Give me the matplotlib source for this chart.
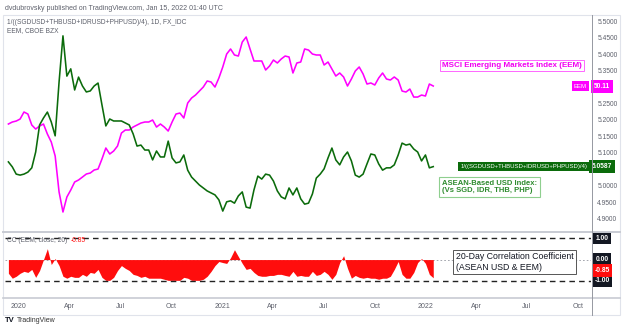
import matplotlib
matplotlib.use('Agg')
import matplotlib.pyplot as plt
import matplotlib.dates as mdates
import matplotlib.transforms as mtransforms
from matplotlib.patches import Rectangle
from matplotlib.lines import Line2D
import pandas as pd

plt.rcParams['font.family'] = ['Liberation Sans', 'DejaVu Sans']

# ---------------- data (weekly samples) ----------------
dates = pd.date_range('2019-12-13', periods=110, freq='7D')

asean_usd = [5.073, 5.058, 5.036, 5.033, 5.036, 5.042, 5.055, 5.103, 5.185, 5.206,
             5.224, 5.194, 5.152, 5.315, 5.455, 5.333, 5.355, 5.291, 5.330, 5.303,
             5.285, 5.288, 5.303, 5.312, 5.246, 5.182, 5.203, 5.197, 5.197, 5.197,
             5.191, 5.185, 5.158, 5.121, 5.124, 5.109, 5.109, 5.079, 5.106, 5.088,
             5.088, 5.136, 5.085, 5.070, 5.073, 5.094, 5.048, 5.027, 5.015, 5.003,
             4.994, 4.985, 4.979, 4.973, 4.958, 4.924, 4.952, 4.955, 4.948, 4.970,
             4.982, 4.936, 4.933, 4.988, 5.030, 5.021, 5.036, 5.033, 5.015, 4.985,
             4.967, 4.961, 4.994, 4.973, 4.994, 4.961, 4.945, 4.948, 4.976, 5.024,
             5.036, 5.052, 5.085, 5.115, 5.079, 5.064, 5.088, 5.103, 5.076, 5.033,
             5.027, 5.036, 5.067, 5.097, 5.094, 5.067, 5.048, 5.055, 5.055, 5.064,
             5.094, 5.130, 5.124, 5.127, 5.112, 5.103, 5.076, 5.094, 5.055, 5.0587]

eem = [43.84, 44.17, 44.33, 44.66, 45.82, 45.49, 43.67, 43.01, 43.51, 43.84,
       42.19, 40.87, 38.56, 32.62, 29.32, 31.79, 32.95, 34.27, 34.60, 35.09,
       35.59, 35.75, 36.25, 36.41, 38.06, 39.88, 38.89, 39.38, 40.21, 42.35,
       42.85, 42.85, 43.34, 43.67, 44.00, 44.17, 44.17, 44.50, 43.34, 43.84,
       43.34, 42.68, 44.17, 45.49, 45.65, 44.83, 47.30, 48.13, 48.62, 49.28,
       49.94, 50.94, 50.77, 49.94, 51.43, 53.25, 55.39, 56.22, 55.23, 55.06,
       57.37, 58.20, 56.22, 54.24, 54.24, 54.24, 52.75, 53.41, 54.40, 53.91,
       54.57, 55.06, 54.90, 52.26, 53.91, 54.07, 56.22, 56.05, 55.39, 55.23,
       55.23, 53.58, 54.07, 52.92, 51.76, 52.26, 51.60, 50.11, 51.27, 52.59,
       53.25, 52.09, 50.44, 50.61, 50.28, 51.43, 52.26, 51.27, 51.10, 51.60,
       51.10, 49.28, 49.12, 49.61, 48.29, 48.29, 48.62, 48.46, 50.44, 50.11]

corr = [-0.64, -0.87, -0.78, -0.64, -0.55, -0.60, -0.46, -0.83, -0.51, 0.00,
        0.51, -0.23, 0.05, -0.28, -0.78, -0.87, -0.78, -0.83, -0.83, -0.69,
        -0.78, -0.60, -0.64, -0.46, -0.83, -0.97, -0.97, -0.83, -0.51, -0.28,
        -0.41, -0.51, -0.69, -0.74, -0.83, -0.78, -0.87, -0.87, -0.87, -0.87,
        -0.92, -0.97, -0.97, -0.97, -0.97, -0.83, -0.87, -0.97, -0.97, -0.97,
        -0.92, -0.78, -0.55, -0.28, -0.09, -0.14, -0.18, 0.09, 0.46, 0.14,
        -0.18, -0.46, -0.41, -0.60, -0.74, -0.78, -0.78, -0.74, -0.74, -0.69,
        -0.69, -0.74, -0.78, -0.55, -0.78, -0.74, -0.78, -0.78, -0.55, -0.74,
        -0.69, -0.55, -0.69, -0.92, -0.69, -0.14, 0.18, -0.41, -0.87, -0.74,
        -0.83, -0.87, -0.83, -0.87, -0.87, -0.92, -0.87, -0.87, -0.78, -0.46,
        -0.09, -0.69, -0.87, -0.87, -0.60, -0.14, 0.05, -0.18, -0.69, -0.85]

price_ticks = [4.90, 4.95, 5.00, 5.10, 5.15, 5.20, 5.25, 5.35, 5.40, 5.45, 5.50]
x_tick_dates = ['2020-01-01', '2020-04-01', '2020-07-01', '2020-10-01',
                '2021-01-01', '2021-04-01', '2021-07-01', '2021-10-01',
                '2022-01-01', '2022-04-01', '2022-07-01', '2022-10-01']
x_tick_labels = ['2020', 'Apr', 'Jul', 'Oct', '2021', 'Apr', 'Jul', 'Oct',
                 '2022', 'Apr', 'Jul', 'Oct']

# ---------------- colours ----------------
MAGENTA = '#ff00ff'
GREEN = '#0b6b0b'
RED = '#ff0d0d'
GREY_TXT = '#5d606b'

W, H = 623, 330
fig = plt.figure(figsize=(W / 100, H / 100), dpi=100)
fig.patch.set_facecolor('white')


def rect(x0, y0, x1, y1):
    return [x0 / W, 1 - y1 / H, (x1 - x0) / W, (y1 - y0) / H]


def fx(px):
    return px / W


def fy(py):
    return 1 - py / H


# outer frame and separators
fig.patches.append(Rectangle((fx(3), fy(315)), (620 - 3) / W, (315 - 15) / H,
                             transform=fig.transFigure, fill=False,
                             ec='#e0e3eb', lw=0.8))
fig.lines.append(Line2D([fx(3), fx(620)], [fy(231.5), fy(231.5)],
                        transform=fig.transFigure, color='#c8cbd3', lw=1.4))
fig.lines.append(Line2D([fx(3), fx(620)], [fy(297.5), fy(297.5)],
                        transform=fig.transFigure, color='#c8cbd3', lw=1.2))
fig.lines.append(Line2D([fx(592), fx(592)], [fy(15), fy(315)],
                        transform=fig.transFigure, color='#9598a1', lw=0.7))

x0 = mdates.date2num(pd.Timestamp('2020-01-01'))
xlim = (x0 - 25.1, x0 + 1027.3)

ax_e = fig.add_axes(rect(5, 15, 591, 231))
ax_g = ax_e.twinx()
ax_c = fig.add_axes(rect(5, 232, 591, 297))

for a in (ax_e, ax_g, ax_c):
    a.set_xlim(xlim)
    a.patch.set_alpha(0)
    for s in a.spines.values():
        s.set_visible(False)

# main pane
ax_e.plot(dates, eem, color=MAGENTA, lw=1.15, solid_joinstyle='round')
ax_e.set_ylim(26.185, 61.83)
ax_e.set_yticks([])
ax_e.set_xticks([])

ax_g.plot(dates, asean_usd, color=GREEN, lw=1.15, solid_joinstyle='round')
ax_g.set_ylim(4.8636, 5.5182)
ax_g.set_yticks(price_ticks)
ax_g.set_yticklabels(['%.4f' % v for v in price_ticks])
ax_g.tick_params(axis='y', length=0, pad=4.5, labelsize=4.8, labelcolor=GREY_TXT)
ax_g.set_xticks([])

# correlation pane
ax_c.fill_between(dates, 0, corr, color=RED, lw=0, zorder=2)
ax_c.axhline(0, color='#9598a1', lw=0.6, ls=(0, (2, 2.5)), zorder=1)
ax_c.axhline(1, color='#222222', lw=1.0, ls=(0, (4, 3)), zorder=3)
ax_c.axhline(-1, color='#222222', lw=1.0, ls=(0, (4, 3)), zorder=3)
ax_c.set_ylim(-1.747, 1.287)
ax_c.set_yticks([])
ax_c.set_xticks([mdates.date2num(pd.Timestamp(d)) for d in x_tick_dates])
ax_c.set_xticklabels(x_tick_labels)
ax_c.tick_params(axis='x', length=0, pad=4, labelsize=5, labelcolor=GREY_TXT)

# ---------------- price-scale labels ----------------
tr_e = mtransforms.blended_transform_factory(ax_e.transAxes, ax_e.transData)
tr_g = mtransforms.blended_transform_factory(ax_g.transAxes, ax_g.transData)
tr_c = mtransforms.blended_transform_factory(ax_c.transAxes, ax_c.transData)
xv = (602 - 5) / 586
xr = (587 - 5) / 586

ax_e.text(xv, eem[-1], '%.2f' % eem[-1], transform=tr_e, ha='center', va='center',
          fontsize=4.8, color='white', fontweight='bold', clip_on=False, zorder=10,
          bbox=dict(boxstyle='square,pad=0.45', fc=MAGENTA, ec='none'))
ax_e.text(xr, eem[-1], 'EEM', transform=tr_e, ha='right', va='center',
          fontsize=4.3, color='white', clip_on=False, zorder=10,
          bbox=dict(boxstyle='square,pad=0.4', fc=MAGENTA, ec='none'))

ax_g.text(xv, asean_usd[-1], '%.4f' % asean_usd[-1], transform=tr_g, ha='center',
          va='center', fontsize=4.8, color='white', fontweight='bold', clip_on=False,
          zorder=10, bbox=dict(boxstyle='square,pad=0.4', fc=GREEN, ec='none'))
ax_g.text(xr, asean_usd[-1], '1/((SGDUSD+THBUSD+IDRUSD+PHPUSD)/4)', transform=tr_g,
          ha='right', va='center', fontsize=4.3, color='white', clip_on=False,
          zorder=10, bbox=dict(boxstyle='square,pad=0.35', fc=GREEN, ec='none'))

for lvl in (1.0, 0.0, -1.0):
    ax_c.text(xv, lvl, '%.2f' % lvl, transform=tr_c, ha='center', va='center',
              fontsize=4.8, color='white', fontweight='bold', clip_on=False, zorder=10,
              bbox=dict(boxstyle='square,pad=0.4', fc='#131722', ec='none'))
# last-value label, nudged up so it sits just above the -1.00 label
ax_c.annotate('%.2f' % corr[-1], xy=(xv, corr[-1]), xycoords=tr_c,
              xytext=(0, 5.2), textcoords='offset points', ha='center', va='center',
              fontsize=4.8, color='white', fontweight='bold', annotation_clip=False,
              zorder=11, bbox=dict(boxstyle='square,pad=0.4', fc=RED, ec='none'))

# ---------------- texts ----------------
fig.text(fx(5), fy(8), 'dvdubrovsky published on TradingView.com, Jan 15, 2022 01:40 UTC',
         fontsize=5, color=GREY_TXT, va='center', ha='left')
fig.text(fx(7), fy(22.5), '1/((SGDUSD+THBUSD+IDRUSD+PHPUSD)/4), 1D, FX_IDC',
         fontsize=4.8, color=GREY_TXT, va='center', ha='left')
fig.text(fx(7), fy(31), 'EEM, CBOE BZX', fontsize=4.8, color=GREY_TXT,
         va='center', ha='left')
fig.text(fx(7), fy(240), 'CC (EEM, close, 20)', fontsize=4.8, color=GREY_TXT,
         va='center', ha='left')
fig.text(fx(71), fy(240), '%.2f' % corr[-1], fontsize=4.8, color=RED,
         va='center', ha='left')

fig.text(fx(512), fy(65.5), 'MSCI Emerging Markets Index (EEM)', fontsize=5.8,
         color='#f200f2', fontweight='bold', ha='center', va='center',
         bbox=dict(boxstyle='square,pad=0.3', fc='white', ec='#ff66ff', lw=0.7))
fig.text(fx(442), fy(187), 'ASEAN-Based USD Index:\n(Vs SGD, IDR, THB, PHP)',
         fontsize=5.5, color='#2e8b2e', fontweight='bold', ha='left', va='center',
         linespacing=1.15,
         bbox=dict(boxstyle='square,pad=0.35', fc='white', ec='#8fcf8f', lw=0.8))
fig.text(fx(456), fy(262), '20-Day Correlation Coefficient\n(ASEAN USD & EEM)',
         fontsize=6.3, color='#131722', ha='left', va='center', linespacing=1.15,
         bbox=dict(boxstyle='square,pad=0.3', fc='white', ec='#555555', lw=0.7))

fig.text(fx(5), fy(321), 'TV', fontsize=5.5, fontweight='bold', color='#131722',
         va='center', ha='left')
fig.text(fx(17), fy(321), 'TradingView', fontsize=5, color='#333333',
         va='center', ha='left')

fig.savefig('out.png', dpi=100, facecolor='white')
